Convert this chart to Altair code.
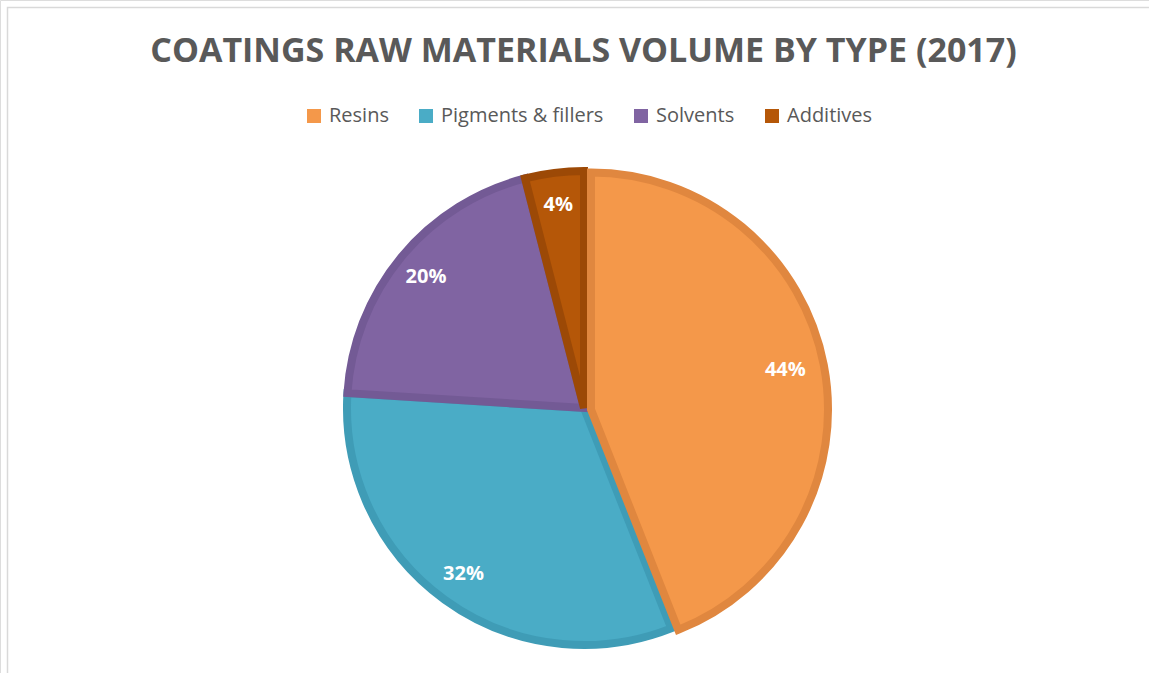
import altair as alt
import pandas as pd

categories = ["Resins", "Pigments & fillers", "Solvents", "Additives"]
shares = [44, 32, 20, 4]
labels = ["44%", "32%", "20%", "4%"]
fill_colors = ["#F4984A", "#4AACC6", "#8064A2", "#B55708"]
stroke_colors = ["#E0873F", "#3F9CB6", "#735A95", "#9C4906"]
explode = [1, 0, 0, 0]

df = pd.DataFrame({
    "category": categories,
    "share": shares,
    "label": labels,
    "order": list(range(len(categories))),
    "explode": explode,
})

CX, CY = 584, 408
theta_scale = alt.Scale(domain=[0, 100])
color_enc = alt.Color(
    "category:N",
    scale=alt.Scale(domain=categories, range=fill_colors),
    legend=alt.Legend(
        title=None, orient="none", direction="horizontal",
        legendX=304, legendY=106, padding=0,
        symbolType="square", symbolSize=196, symbolStrokeWidth=0,
        labelFont="Open Sans", labelFontSize=20, labelColor="#595959",
        labelOffset=5, columnPadding=27, labelLimit=400,
    ),
)
stroke_enc = alt.Stroke(
    "category:N", scale=alt.Scale(domain=categories, range=stroke_colors), legend=None
)

base = alt.Chart(df).transform_window(
    end="sum(share)", sort=[alt.SortField("order")], frame=[None, 0]
).transform_calculate(
    start="datum.end - datum.share", mid="datum.end - datum.share / 2"
)

slices = base.transform_filter("datum.explode == 0").mark_arc(
    radius=237, strokeWidth=8, strokeJoin="miter"
).encode(
    theta=alt.Theta("start:Q", scale=theta_scale),
    theta2="end:Q",
    color=color_enc,
    stroke=stroke_enc,
    x=alt.value(CX), y=alt.value(CY),
)

exploded = base.transform_filter("datum.explode == 1").mark_arc(
    radius=237, strokeWidth=8, strokeJoin="miter"
).encode(
    theta=alt.Theta("start:Q", scale=theta_scale),
    theta2="end:Q",
    color=color_enc,
    stroke=stroke_enc,
    x=alt.value(CX + 7), y=alt.value(CY + 1.5),
)

text = base.mark_text(
    radius=205, font="Open Sans", fontSize=20, fontWeight="bold", color="white"
).encode(
    theta=alt.Theta("mid:Q", scale=theta_scale),
    text="label:N",
    x=alt.value(CX), y=alt.value(CY),
)

frame = alt.Chart(alt.Data(values=[{"k": 1}])).mark_rect(
    filled=False, stroke="#D9D9D9", strokeWidth=1.5
).encode(
    x=alt.value(7.5), x2=alt.value(1170), y=alt.value(7.5), y2=alt.value(700)
)

chart = alt.layer(frame, slices, exploded, text).properties(
    width=1149, height=673,
    autosize=alt.AutoSizeParams(type="none"),
    padding=0,
    title=alt.Title(
        "COATINGS RAW MATERIALS VOLUME BY TYPE (2017)",
        font="Open Sans", fontSize=34, fontWeight="bold", color="#595959",
        anchor="middle", offset=-69, dx=9,
    ),
).configure_view(stroke=None).configure(background="white")

chart.save("out.html", embed_options={"renderer": "svg", "actions": False})
